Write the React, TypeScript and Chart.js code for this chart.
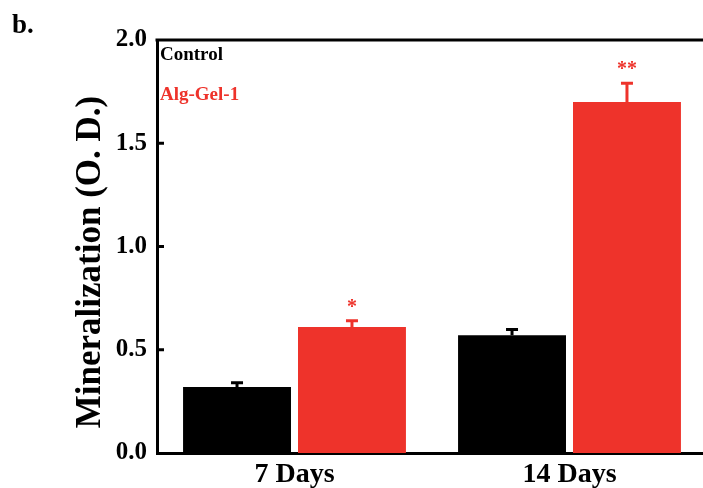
import React, { useEffect, useRef } from "react";
import { Chart, registerables } from "chart.js";

Chart.register(...registerables);

const categories = ["7 Days", "14 Days"];
const seriesNames = ["Control", "Alg-Gel-1"];
const controlValues = [0.32, 0.57];
const controlErrors = [0.02, 0.028];
const gelValues = [0.61, 1.7];
const gelErrors = [0.03, 0.09];
const controlMarks = ["", ""];
const gelMarks = ["*", "**"];
const yTickValues = [0, 0.5, 1.0, 1.5, 2.0];
const yTitle = "Mineralization (O. D.)";
const panelLabel = "b.";

const RED = "#EE332B";
const BLACK = "#000000";
const FONT = "'Liberation Serif', 'Times New Roman', Times, serif";

const overlayPlugin = {
  id: "overlay",
  afterDatasetsDraw(chart: any) {
    const ctx = chart.ctx;
    const yScale = chart.scales.y;
    ctx.save();
    chart.data.datasets.forEach((ds: any, di: number) => {
      const meta = chart.getDatasetMeta(di);
      meta.data.forEach((el: any, i: number) => {
        const v = ds.data[i];
        const e = ds.errors[i];
        const yTop = yScale.getPixelForValue(v + e);
        ctx.strokeStyle = ds.backgroundColor;
        ctx.lineWidth = 3;
        ctx.beginPath();
        ctx.moveTo(el.x, el.y);
        ctx.lineTo(el.x, yTop);
        ctx.moveTo(el.x - 6, yTop);
        ctx.lineTo(el.x + 6, yTop);
        ctx.stroke();
        const mark = ds.marks[i];
        if (mark) {
          ctx.fillStyle = ds.backgroundColor;
          ctx.font = `bold 20px ${FONT}`;
          ctx.textAlign = "center";
          ctx.textBaseline = "alphabetic";
          ctx.fillText(mark, el.x, yTop - 8);
        }
      });
    });
    ctx.restore();
  },
  afterDraw(chart: any) {
    const ctx = chart.ctx;
    const area = chart.chartArea;
    const yScale = chart.scales.y;
    ctx.save();
    ctx.strokeStyle = BLACK;
    ctx.lineWidth = 3;
    ctx.beginPath();
    ctx.moveTo(area.left - 1.5, area.top);
    ctx.lineTo(area.right, area.top);
    ctx.stroke();
    yTickValues.forEach((t) => {
      if (t <= yScale.min || t >= yScale.max) return;
      const py = yScale.getPixelForValue(t);
      ctx.beginPath();
      ctx.moveTo(area.left, py);
      ctx.lineTo(area.left + 7, py);
      ctx.stroke();
    });
    ctx.textAlign = "left";
    ctx.textBaseline = "alphabetic";
    ctx.font = `bold 19px ${FONT}`;
    chart.data.datasets.forEach((ds: any, di: number) => {
      ctx.fillStyle = ds.backgroundColor;
      ctx.fillText(ds.label, area.left + 3, area.top + 20 + di * 40);
    });
    ctx.fillStyle = BLACK;
    ctx.font = `bold 35px ${FONT}`;
    ctx.translate(100, 262);
    ctx.rotate(-Math.PI / 2);
    ctx.textAlign = "center";
    ctx.fillText(yTitle, 0, 0);
    ctx.restore();
    ctx.save();
    ctx.fillStyle = BLACK;
    ctx.font = `bold 27px ${FONT}`;
    ctx.textAlign = "left";
    ctx.textBaseline = "alphabetic";
    ctx.fillText(panelLabel, 12, 33);
    ctx.restore();
  },
};

export default function App() {
  const ref = useRef<HTMLCanvasElement | null>(null);
  useEffect(() => {
    if (!ref.current) return;
    const chart = new Chart(ref.current, {
      type: "bar",
      data: {
        labels: categories,
        datasets: [
          {
            label: seriesNames[0],
            data: controlValues,
            backgroundColor: BLACK,
            borderWidth: 0,
            categoryPercentage: 0.836,
            barPercentage: 0.939,
            errors: controlErrors,
            marks: controlMarks,
          } as any,
          {
            label: seriesNames[1],
            data: gelValues,
            backgroundColor: RED,
            borderWidth: 0,
            categoryPercentage: 0.836,
            barPercentage: 0.939,
            errors: gelErrors,
            marks: gelMarks,
          } as any,
        ],
      },
      options: {
        responsive: false,
        animation: false,
        devicePixelRatio: 1,
        layout: { padding: { top: 40, right: 3, left: 0, bottom: 0 } },
        plugins: {
          legend: { display: false },
          tooltip: { enabled: false },
        },
        scales: {
          x: {
            type: "category",
            offset: true,
            grid: { display: false },
            border: { display: true, color: BLACK, width: 3 },
            ticks: {
              color: BLACK,
              padding: 0,
              font: { family: FONT, size: 28, weight: "bold", lineHeight: 1.0 },
            },
            afterFit: (s: any) => {
              s.height = 35;
            },
          },
          y: {
            min: 0,
            max: 2,
            grid: { display: false },
            border: { display: true, color: BLACK, width: 3 },
            afterBuildTicks: (s: any) => {
              s.ticks = yTickValues.map((v) => ({ value: v }));
            },
            ticks: {
              color: BLACK,
              padding: 2,
              font: { family: FONT, size: 25, weight: "bold" },
              callback: (v: any) => Number(v).toFixed(1),
            },
            afterFit: (s: any) => {
              s.width = 157;
            },
          },
        },
      },
      plugins: [overlayPlugin],
    });
    return () => chart.destroy();
  }, []);
  return (
    <div
      style={{
        position: "absolute",
        left: 0,
        top: 0,
        width: 703,
        height: 488,
        overflow: "hidden",
        background: "#fff",
      }}
    >
      <canvas ref={ref} width={710} height={488} style={{ display: "block" }} />
    </div>
  );
}
